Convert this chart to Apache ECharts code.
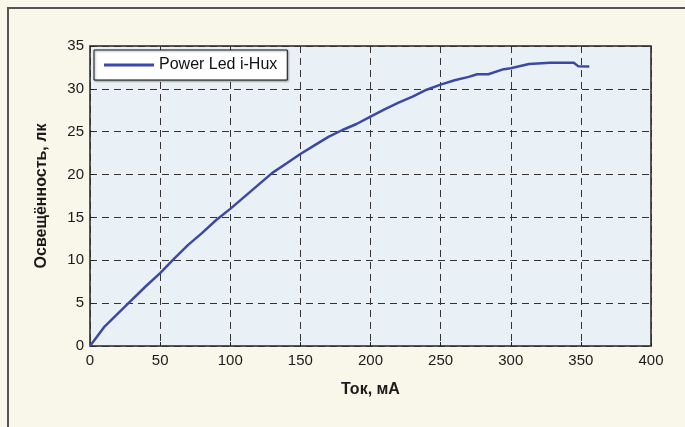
<!DOCTYPE html>
<html>
<head>
<meta charset="utf-8">
<script src="https://cdn.jsdelivr.net/npm/echarts@6/dist/echarts.min.js"></script>
<style>
html, body {margin:0; padding:0; background:#f9f6ea;}
#chart {width:685px; height:427px;}
</style>
</head>
<body>
<div id="chart"></div>
<script>
// ток, мА
var currentMA = [0, 10, 20, 30, 40, 50, 60, 70, 80, 90, 100, 110, 120, 130, 140, 150, 160, 170, 180, 190,
	200, 210, 220, 230, 240, 250, 260, 270, 276, 284, 295, 300, 313, 328, 345, 348, 356];
// освещённость, лк
var luxValues = [0, 2.2, 3.8, 5.4, 7.0, 8.5, 10.2, 11.8, 13.2, 14.7, 16.0, 17.4, 18.8, 20.2, 21.3, 22.4, 23.4, 24.4, 25.2, 25.9,
	26.75, 27.6, 28.4, 29.1, 29.9, 30.5, 31.0, 31.4, 31.7, 31.7, 32.3, 32.4, 32.9, 33.05, 33.05, 32.65, 32.6];
var seriesName = 'Power Led i-Hux';

var chart = echarts.init(document.getElementById('chart'), null, {renderer: 'canvas'});
var pts = [];
for (var i = 0; i < currentMA.length; i++) {
	pts.push([currentMA[i], luxValues[i]]);
}
var lbl = {fontFamily: 'Liberation Sans, Arial, sans-serif', fontSize: 15, color: '#1a1a1a'};
var option = {
	backgroundColor: '#f9f6ea',
	animation: false,
	graphic: [{
		type: 'rect',
		shape: {x: 8, y: 8, width: 720, height: 460},
		style: {fill: null, stroke: '#555', lineWidth: 2},
		z: 100
	}],
	grid: {
		left: 90, right: 34, top: 46, bottom: 81,
		show: true,
		backgroundColor: '#e9f1f6',
		borderColor: '#222',
		borderWidth: 1.5
	},
	legend: {
		data: [{name: seriesName, icon: 'rect'}],
		left: 94, top: 50,
		itemWidth: 50, itemHeight: 3,
		itemGap: 8,
		padding: [7, 10, 7, 10],
		backgroundColor: '#fff',
		borderColor: '#111',
		borderWidth: 1,
		shadowColor: 'rgba(0,0,0,0.35)',
		shadowBlur: 2,
		shadowOffsetX: 1,
		shadowOffsetY: 1,
		textStyle: {fontFamily: 'Liberation Sans, Arial, sans-serif', fontSize: 16, color: '#111'}
	},
	xAxis: {
		type: 'value',
		min: 0, max: 400, interval: 50,
		name: 'Ток, мА',
		nameLocation: 'middle',
		nameGap: 36,
		nameTextStyle: {fontFamily: 'Liberation Sans, Arial, sans-serif', fontSize: 16, fontWeight: 'bold', color: '#1a1a1a'},
		axisLine: {show: false},
		axisTick: {show: true, inside: true, length: 4, lineStyle: {color: '#222'}},
		axisLabel: Object.assign({margin: 7}, lbl),
		splitLine: {show: true, lineStyle: {color: '#333', type: [7, 5], width: 1}}
	},
	yAxis: {
		type: 'value',
		min: 0, max: 35, interval: 5,
		name: 'Освещённость, лк',
		nameLocation: 'middle',
		nameGap: 40,
		nameTextStyle: {fontFamily: 'Liberation Sans, Arial, sans-serif', fontSize: 16, fontWeight: 'bold', color: '#1a1a1a'},
		axisLine: {show: false},
		axisTick: {show: true, inside: true, length: 4, lineStyle: {color: '#222'}},
		axisLabel: Object.assign({margin: 6}, lbl),
		splitLine: {show: true, lineStyle: {color: '#333', type: [7, 5], width: 1}}
	},
	series: [{
		name: seriesName,
		type: 'line',
		data: pts,
		showSymbol: false,
		symbol: 'none',
		lineStyle: {color: '#3a49a6', width: 2.5},
		itemStyle: {color: '#3a49a6'}
	}]
};
chart.setOption(option);
</script>
</body>
</html>
